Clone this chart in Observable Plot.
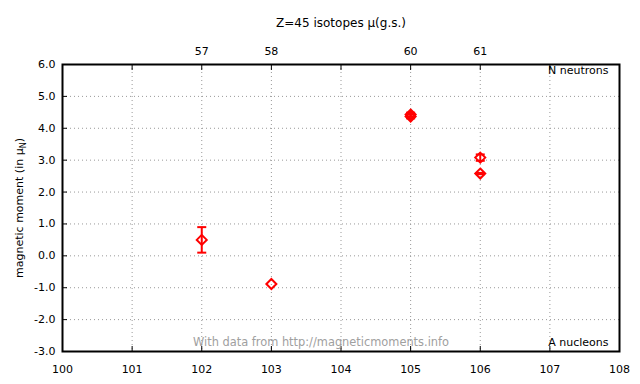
<!DOCTYPE html>
<html>
<head>
<meta charset="utf-8">
<script src="https://cdn.jsdelivr.net/npm/d3@7"></script>
<script src="https://cdn.jsdelivr.net/npm/@observablehq/plot@0.6"></script>
<style>
  body { margin: 0; background: #fff; }
  svg { font-family: "DejaVu Sans", sans-serif; }
</style>
</head>
<body>
<div id="chart"></div>
<script>
// Data: Z=45 (Rh) isotopes, ground-state magnetic moments
const massNumbers = [102, 103, 105, 105, 106, 106];
const moments     = [0.5, -0.884, 4.43, 4.37, 3.08, 2.58];
const errors      = [0.4, 0.0, 0.06, 0.06, 0.1, 0.02];
const Z = 45;
const xTicks = [100, 101, 102, 103, 104, 105, 106, 107, 108];
const yTicks = [-3, -2, -1, 0, 1, 2, 3, 4, 5, 6];
const neutronTickA = [102, 103, 105, 106];

const data = massNumbers.map((a, i) => ({A: a, mu: moments[i], lo: moments[i] - errors[i], hi: moments[i] + errors[i], err: errors[i]}));
const errData = data.filter(d => d.err > 0);

const capSymbol = {
  draw(context, size) {
    const w = 4.5;
    context.moveTo(-w, 0);
    context.lineTo(w, 0);
  }
};

const font = "DejaVu Sans";
const plot = Plot.plot({
  width: 640,
  height: 384,
  marginLeft: 62,
  marginRight: 21,
  marginTop: 64,
  marginBottom: 33,
  style: {fontFamily: font, fontSize: "11px", background: "white", color: "black"},
  x: {domain: [100, 108]},
  y: {domain: [-3, 6]},
  marks: [
    // grid
    Plot.ruleX(xTicks.slice(1, -1), {stroke: "#999", strokeDasharray: "1,3", strokeWidth: 1, strokeOpacity: 1}),
    Plot.ruleY(yTicks.slice(1, -1), {stroke: "#999", strokeDasharray: "1,3", strokeWidth: 1, strokeOpacity: 1}),
    // bottom axis labels + inward ticks
    Plot.axisX({anchor: "bottom", ticks: xTicks, tickSize: 0, tickPadding: 14, tickFormat: d => String(d), label: null, fontSize: 11}),
    Plot.axisX({anchor: "bottom", ticks: xTicks, tickSize: 5, text: null, dy: -5, label: null, strokeWidth: 1}),
    // top axis: neutrons
    Plot.axisX({anchor: "top", ticks: neutronTickA, tickSize: 0, tickPadding: 10, tickFormat: d => String(d - Z), label: null}),
    Plot.axisX({anchor: "top", ticks: xTicks, tickSize: 5, text: null, dy: 5, label: null}),
    // left axis
    Plot.axisY({anchor: "left", ticks: yTicks, tickSize: 0, tickPadding: 7, tickFormat: d => d.toFixed(1), label: null}),
    Plot.axisY({anchor: "left", ticks: yTicks, tickSize: 5, text: null, dx: 5, label: null}),
    // frame
    Plot.frame({stroke: "black", strokeWidth: 2}),
    // watermark and corner labels
    Plot.text(["With data from http://magneticmoments.info"], {frameAnchor: "bottom", dx: -20, dy: -6, fill: "#a0a0a0", fontSize: 11.4, lineAnchor: "bottom"}),
    Plot.text(["A nucleons"], {frameAnchor: "bottom-right", dx: -11, dy: -6, fill: "black", fontSize: 11, lineAnchor: "bottom", textAnchor: "end"}),
    Plot.text(["N neutrons"], {frameAnchor: "top-right", dx: -11, dy: 2, fill: "black", fontSize: 11, lineAnchor: "top", textAnchor: "end"}),
    Plot.text(["Z=45 isotopes μ(g.s.)"], {frameAnchor: "top", dy: -41, fill: "black", fontSize: 12, lineAnchor: "middle"}),
    // error bars
    Plot.ruleX(errData, {x: "A", y1: "lo", y2: "hi", stroke: "red", strokeWidth: 2}),
    Plot.dot(errData, {x: "A", y: "lo", symbol: capSymbol, stroke: "red", strokeWidth: 2, r: 4}),
    Plot.dot(errData, {x: "A", y: "hi", symbol: capSymbol, stroke: "red", strokeWidth: 2, r: 4}),
    // points
    Plot.dot(data, {x: "A", y: "mu", symbol: "diamond2", r: 4.5, stroke: "red", strokeWidth: 2, fill: "none"})
  ]
});

// y axis title with subscript
const svg = d3.select(plot);
const t = svg.append("text")
  .attr("transform", "translate(20,208) rotate(-90)")
  .attr("text-anchor", "middle")
  .attr("dominant-baseline", "middle")
  .attr("font-family", font)
  .attr("font-size", 11)
  .attr("fill", "black");
t.append("tspan").text("magnetic moment (in μ");
t.append("tspan").attr("font-size", 8).attr("dy", 3).text("N");
t.append("tspan").attr("dy", -3).text(")");

document.getElementById("chart").appendChild(plot);
</script>
</body>
</html>
